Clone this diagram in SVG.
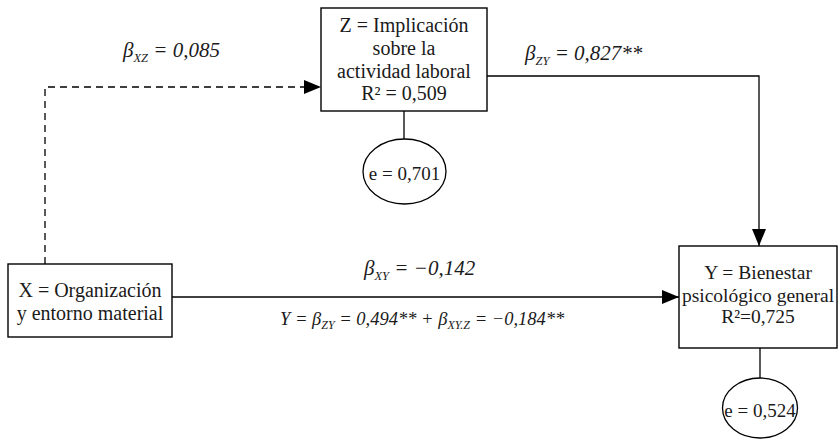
<svg xmlns="http://www.w3.org/2000/svg" width="839" height="439" viewBox="0 0 839 439">
  <defs>
    <style>
      .box { fill: #ffffff; stroke: #000000; stroke-width: 1.4; }
      .ell { fill: #ffffff; stroke: #000000; stroke-width: 1.3; }
      .line { fill: none; stroke: #000000; stroke-width: 1.3; }
      .dash { fill: none; stroke: #000000; stroke-width: 1.3; stroke-dasharray: 7 5; }
      .node { font-family: "Liberation Serif", "Times New Roman", serif; font-size: 20px; fill: #1a1a1a; text-anchor: middle; }
      .nodey { font-size: 19.5px; }
      .etxt { font-family: "Liberation Serif", "Times New Roman", serif; font-size: 19px; fill: #1a1a1a; text-anchor: middle; }
      .lbl { font-family: "Liberation Serif", "Times New Roman", serif; font-style: italic; font-size: 21px; fill: #1a1a1a; }
      .sub { font-size: 12.5px; }
      .frm { font-family: "Liberation Serif", "Times New Roman", serif; font-style: italic; font-size: 18.5px; fill: #1a1a1a; }
      .fsub { font-size: 12px; }
    </style>
    <marker id="arrow" markerUnits="userSpaceOnUse" markerWidth="18" markerHeight="14" refX="17" refY="7" orient="auto">
      <path d="M0,0 L17,7 L0,14 Z" fill="#000000"/>
    </marker>
  </defs>
  <rect width="839" height="439" fill="#ffffff"/>

  <g id="connectors">
    <polyline class="dash" points="45,264 45,87 321,87" marker-end="url(#arrow)"/>
    <polyline class="line" points="487,76 759,76 759,246" marker-end="url(#arrow)"/>
    <line class="line" x1="172" y1="297" x2="679" y2="297" marker-end="url(#arrow)"/>
    <line class="line" x1="404" y1="111" x2="404" y2="139"/>
    <line class="line" x1="760" y1="348" x2="760" y2="378"/>
  </g>

  <g id="node-z">
    <rect class="box" x="321" y="8" width="166" height="103"/>
    <text class="node" x="404" y="32">Z = Implicación</text>
    <text class="node" x="404" y="55">sobre la</text>
    <text class="node" x="404" y="78">actividad laboral</text>
    <text class="node" x="404" y="100">R² = 0,509</text>
  </g>

  <g id="node-ez">
    <ellipse class="ell" cx="404.5" cy="171.5" rx="41.5" ry="32.5"/>
    <text class="etxt" x="404.5" y="180">e = 0,701</text>
  </g>

  <g id="node-x">
    <rect class="box" x="8" y="264" width="164" height="73"/>
    <text class="node" x="90" y="297">X = Organización</text>
    <text class="node" x="90" y="320">y entorno material</text>
  </g>

  <g id="node-y">
    <rect class="box" x="679" y="246" width="158" height="102"/>
    <text class="node nodey" x="758" y="279">Y = Bienestar</text>
    <text class="node nodey" x="758" y="302">psicológico general</text>
    <text class="node nodey" x="758" y="323">R²=0,725</text>
  </g>

  <g id="node-ey">
    <ellipse class="ell" cx="760" cy="408" rx="37.5" ry="30"/>
    <text class="etxt" x="760" y="417">e = 0,524</text>
  </g>

  <g id="labels">
    <text class="lbl" x="123" y="57">β<tspan class="sub" dy="5">XZ</tspan><tspan dy="-5"> = 0,085</tspan></text>
    <text class="lbl" x="525" y="60">β<tspan class="sub" dy="5">ZY</tspan><tspan dy="-5"> = 0,827**</tspan></text>
    <text class="lbl" x="364" y="275">β<tspan class="sub" dy="5">XY</tspan><tspan dy="-5"> = −0,142</tspan></text>
    <text class="frm" x="280" y="325">Y = β<tspan class="fsub" dy="4">ZY</tspan><tspan dy="-4"> = 0,494** + β</tspan><tspan class="fsub" dy="4">XY.Z</tspan><tspan dy="-4"> = −0,184**</tspan></text>
  </g>
</svg>
